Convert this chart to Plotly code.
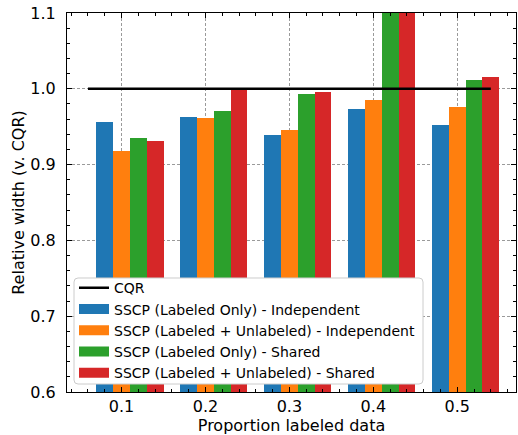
import plotly.graph_objects as go

proportions = [0.1, 0.2, 0.3, 0.4, 0.5]
tick_labels = ["0.1", "0.2", "0.3", "0.4", "0.5"]
series_names = [
    "SSCP (Labeled Only) - Independent",
    "SSCP (Labeled + Unlabeled) - Independent",
    "SSCP (Labeled Only) - Shared",
    "SSCP (Labeled + Unlabeled) - Shared",
]
lo_indep = [0.956, 0.963, 0.939, 0.973, 0.952]
lu_indep = [0.918, 0.961, 0.9455, 0.985, 0.976]
lo_shared = [0.935, 0.971, 0.993, 1.13, 1.0115]
lu_shared = [0.931, 0.999, 0.9955, 1.15, 1.0155]
cqr_x = [0.06, 0.54]
cqr_y = [1.0, 1.0]

colors = ["#1f77b4", "#ff7f0e", "#2ca02c", "#d62728"]
series_values = [lo_indep, lu_indep, lo_shared, lu_shared]
bar_w = 0.02

FONT = "DejaVu Sans"
fig = go.Figure()

for i, (name, vals, c) in enumerate(zip(series_names, series_values, colors)):
    fig.add_trace(go.Bar(
        x=proportions, y=vals, width=bar_w, offset=-1.5 * bar_w + i * bar_w,
        marker=dict(color=c, line=dict(width=0)), name=name, showlegend=False,
    ))

fig.add_trace(go.Scatter(x=cqr_x, y=cqr_y, mode="lines", name="CQR",
                         line=dict(color="black", width=2.5)))
# legend swatches
for name, c in zip(series_names, colors):
    fig.add_trace(go.Scatter(x=[None], y=[None], mode="lines", name=name,
                             line=dict(color=c, width=10)))

axis_common = dict(
    showline=True, linecolor="black", linewidth=1, mirror="allticks",
    ticks="inside", ticklen=5, tickwidth=1, tickcolor="black",
    showgrid=True, gridcolor="#9a9a9a", gridwidth=0.8, griddash="3px,2px",
    zeroline=False, tickfont=dict(family=FONT, size=16, color="black"),
    automargin=False, ticklabeloverflow="allow",
)

fig.update_xaxes(
    range=[0.035, 0.57], tickvals=proportions, ticktext=tick_labels,
    minor=dict(dtick=0.02, tick0=0.1, ticks="inside", ticklen=3, tickcolor="black", showgrid=False),
    title=dict(text="Proportion labeled data", font=dict(family=FONT, size=16, color="black"), standoff=2),
    **axis_common,
)
fig.update_yaxes(
    range=[0.6, 1.1], dtick=0.1, tickformat=".1f",
    minor=dict(dtick=0.02, ticks="inside", ticklen=3, tickcolor="black", showgrid=False),
    title=dict(text="Relative width (v. CQR)", font=dict(family=FONT, size=16, color="black"), standoff=1),
    ticklabelstandoff=7,
    **axis_common,
)

# legend frame (rounded) drawn as a paper-space shape
PW, PH = 449.0, 379.0
bx0, bx1, by0, by1 = 0.0156, 0.7929, 0.0211, 0.3008
rx, ry = 4 / PW, 4 / PH
frame = (
    f"M {bx0+rx},{by0} L {bx1-rx},{by0} Q {bx1},{by0} {bx1},{by0+ry} "
    f"L {bx1},{by1-ry} Q {bx1},{by1} {bx1-rx},{by1} "
    f"L {bx0+rx},{by1} Q {bx0},{by1} {bx0},{by1-ry} "
    f"L {bx0},{by0+ry} Q {bx0},{by0} {bx0+rx},{by0} Z"
)
fig.add_shape(type="path", path=frame, xref="paper", yref="paper",
              fillcolor="white", line=dict(color="#cccccc", width=1), layer="above")

fig.update_layout(
    width=518, height=435,
    margin=dict(l=67, r=2, t=13, b=43),
    plot_bgcolor="white", paper_bgcolor="white",
    barmode="overlay", bargap=0,
    font=dict(family=FONT, size=14, color="black"),
    legend=dict(
        x=0.0156, y=0.316, xanchor="left", yanchor="top",
        bgcolor="rgba(0,0,0,0)", borderwidth=0,
        font=dict(family=FONT, size=14, color="black"),
        tracegroupgap=0, itemwidth=30,
    ),
    showlegend=True,
)

fig.write_html(
    "out.html",
    config={"displayModeBar": False},
    post_script="document.body.style.margin='0px';document.body.style.overflow='hidden';",
)
